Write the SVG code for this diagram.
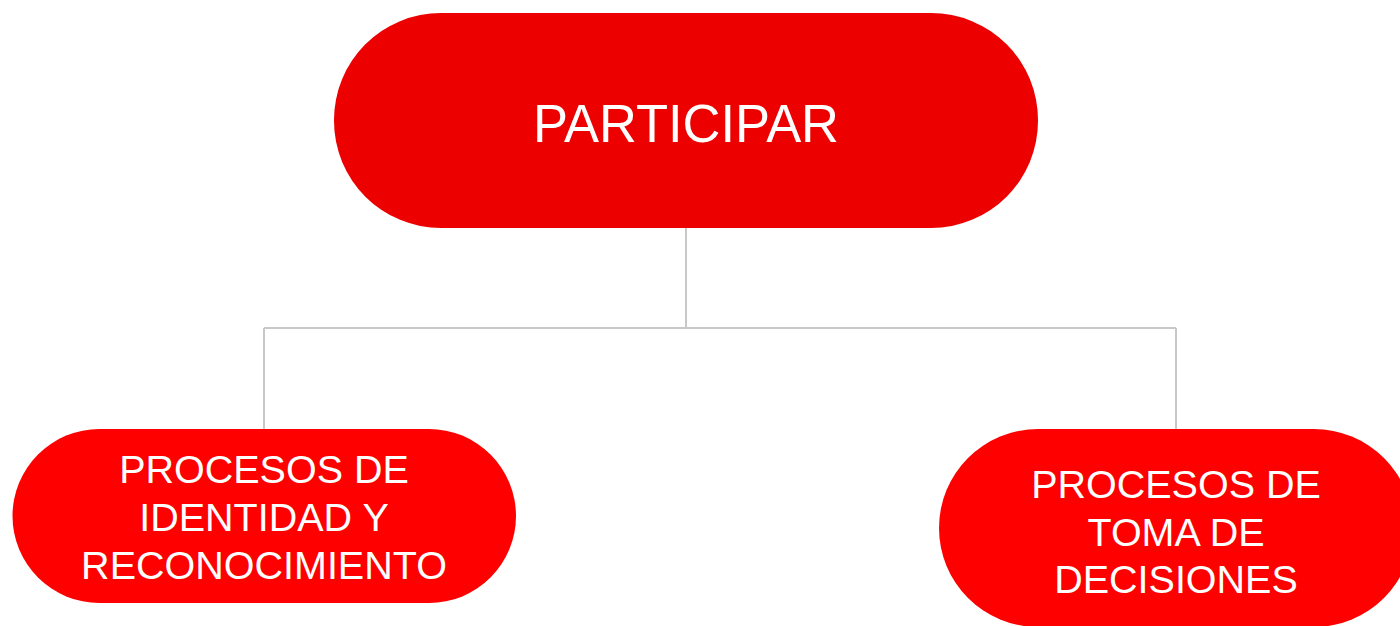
<svg xmlns="http://www.w3.org/2000/svg" width="1400" height="626" viewBox="0 0 1400 626">
<style>
.conn{fill:none;stroke:#C8C8C8;stroke-width:2}
.lbl{font-family:"Liberation Sans",Arial,sans-serif;fill:#FFFFFF;text-anchor:middle}
</style>
<rect width="1400" height="626" fill="#FFFFFF"/>
<g id="connectors">
<path class="conn" d="M686 228 V328 M264 328 H1176 M264 328 V429 M1176 328 V429"/>
</g>
<g id="node-participar">
<rect x="334" y="13" width="704" height="215" rx="107" ry="107" fill="#EC0000"/>
<text class="lbl" x="686" y="142" font-size="54" textLength="306" lengthAdjust="spacingAndGlyphs">PARTICIPAR</text>
</g>
<g id="node-identidad">
<rect x="12.5" y="429" width="503.5" height="174" rx="87" ry="87" fill="#FE0000"/>
<text class="lbl" font-size="39.5"><tspan x="264" y="483">PROCESOS DE</tspan><tspan x="264" y="531">IDENTIDAD Y</tspan><tspan x="264" y="579">RECONOCIMIENTO</tspan></text>
</g>
<g id="node-decisiones">
<rect x="939" y="429" width="474" height="198" rx="99" ry="99" fill="#FE0000"/>
<text class="lbl" font-size="39.5"><tspan x="1176" y="498">PROCESOS DE</tspan><tspan x="1176" y="546">TOMA DE</tspan><tspan x="1176" y="593">DECISIONES</tspan></text>
</g>
</svg>
